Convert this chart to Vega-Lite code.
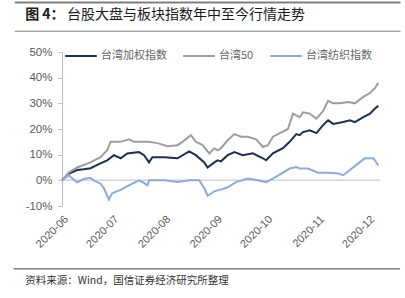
{
  "$schema": "https://vega.github.io/schema/vega-lite/v6.json",
  "width": 405,
  "height": 298,
  "autosize": "none",
  "padding": 0,
  "background": "white",
  "config": {
    "view": {"stroke": null},
    "font": "Liberation Sans",
    "axisY": {"labelOverlap": false, "labelFontSize": 11.5, "labelColor": "#595959", "labelPadding": 6, "domainColor": "#bfbfbf", "tickColor": "#bfbfbf", "tickSize": 4, "grid": false, "offset": -62},
    "axisX": {"labelOverlap": false, "labelFlush": false, "labelFontSize": 11, "labelColor": "#595959", "labelPadding": 7, "domain": false, "ticks": false, "grid": false, "offset": -92}
  },
  "datasets": {
    "s": [
      {"date":"2020-06-01","series":"台湾加权指数","value":0},
      {"date":"2020-06-05","series":"台湾加权指数","value":2.5},
      {"date":"2020-06-10","series":"台湾加权指数","value":4},
      {"date":"2020-06-14","series":"台湾加权指数","value":4.3},
      {"date":"2020-06-18","series":"台湾加权指数","value":4.7},
      {"date":"2020-06-24","series":"台湾加权指数","value":6.6},
      {"date":"2020-06-28","series":"台湾加权指数","value":7.8},
      {"date":"2020-07-02","series":"台湾加权指数","value":9.8},
      {"date":"2020-07-06","series":"台湾加权指数","value":8.6},
      {"date":"2020-07-10","series":"台湾加权指数","value":10.5},
      {"date":"2020-07-17","series":"台湾加权指数","value":11},
      {"date":"2020-07-20","series":"台湾加权指数","value":9.8},
      {"date":"2020-07-23","series":"台湾加权指数","value":7},
      {"date":"2020-07-25","series":"台湾加权指数","value":9},
      {"date":"2020-08-01","series":"台湾加权指数","value":9},
      {"date":"2020-08-09","series":"台湾加权指数","value":8.6},
      {"date":"2020-08-16","series":"台湾加权指数","value":11.3},
      {"date":"2020-08-20","series":"台湾加权指数","value":9.8},
      {"date":"2020-08-25","series":"台湾加权指数","value":7},
      {"date":"2020-08-27","series":"台湾加权指数","value":5},
      {"date":"2020-08-31","series":"台湾加权指数","value":7},
      {"date":"2020-09-02","series":"台湾加权指数","value":7.8},
      {"date":"2020-09-04","series":"台湾加权指数","value":7.4},
      {"date":"2020-09-08","series":"台湾加权指数","value":9.8},
      {"date":"2020-09-12","series":"台湾加权指数","value":11},
      {"date":"2020-09-17","series":"台湾加权指数","value":9.8},
      {"date":"2020-09-23","series":"台湾加权指数","value":10.5},
      {"date":"2020-09-29","series":"台湾加权指数","value":8.6},
      {"date":"2020-10-01","series":"台湾加权指数","value":7.8},
      {"date":"2020-10-05","series":"台湾加权指数","value":10.5},
      {"date":"2020-10-11","series":"台湾加权指数","value":12.5},
      {"date":"2020-10-15","series":"台湾加权指数","value":15},
      {"date":"2020-10-19","series":"台湾加权指数","value":18},
      {"date":"2020-10-21","series":"台湾加权指数","value":17.6},
      {"date":"2020-10-23","series":"台湾加权指数","value":18.8},
      {"date":"2020-10-27","series":"台湾加权指数","value":19.5},
      {"date":"2020-10-31","series":"台湾加权指数","value":18.4},
      {"date":"2020-11-04","series":"台湾加权指数","value":21.5},
      {"date":"2020-11-07","series":"台湾加权指数","value":23.4},
      {"date":"2020-11-10","series":"台湾加权指数","value":22},
      {"date":"2020-11-16","series":"台湾加权指数","value":22.7},
      {"date":"2020-11-20","series":"台湾加权指数","value":23.4},
      {"date":"2020-11-23","series":"台湾加权指数","value":22.7},
      {"date":"2020-11-28","series":"台湾加权指数","value":24.6},
      {"date":"2020-12-02","series":"台湾加权指数","value":26},
      {"date":"2020-12-05","series":"台湾加权指数","value":28},
      {"date":"2020-12-07","series":"台湾加权指数","value":29},

      {"date":"2020-06-01","series":"台湾50","value":0},
      {"date":"2020-06-05","series":"台湾50","value":3},
      {"date":"2020-06-10","series":"台湾50","value":5},
      {"date":"2020-06-18","series":"台湾50","value":7},
      {"date":"2020-06-24","series":"台湾50","value":9},
      {"date":"2020-06-28","series":"台湾50","value":11.7},
      {"date":"2020-06-30","series":"台湾50","value":15},
      {"date":"2020-07-06","series":"台湾50","value":15},
      {"date":"2020-07-11","series":"台湾50","value":16},
      {"date":"2020-07-14","series":"台湾50","value":15},
      {"date":"2020-07-23","series":"台湾50","value":15},
      {"date":"2020-07-28","series":"台湾50","value":14.5},
      {"date":"2020-08-03","series":"台湾50","value":13.3},
      {"date":"2020-08-09","series":"台湾50","value":13.7},
      {"date":"2020-08-12","series":"台湾50","value":15},
      {"date":"2020-08-17","series":"台湾50","value":17.6},
      {"date":"2020-08-20","series":"台湾50","value":15},
      {"date":"2020-08-24","series":"台湾50","value":13.7},
      {"date":"2020-08-28","series":"台湾50","value":10.5},
      {"date":"2020-08-31","series":"台湾50","value":12.5},
      {"date":"2020-09-02","series":"台湾50","value":11.7},
      {"date":"2020-09-04","series":"台湾50","value":12.5},
      {"date":"2020-09-08","series":"台湾50","value":15.6},
      {"date":"2020-09-12","series":"台湾50","value":18},
      {"date":"2020-09-16","series":"台湾50","value":17},
      {"date":"2020-09-20","series":"台湾50","value":17},
      {"date":"2020-09-25","series":"台湾50","value":16},
      {"date":"2020-09-29","series":"台湾50","value":13},
      {"date":"2020-10-02","series":"台湾50","value":13.7},
      {"date":"2020-10-05","series":"台湾50","value":17},
      {"date":"2020-10-11","series":"台湾50","value":19},
      {"date":"2020-10-14","series":"台湾50","value":20},
      {"date":"2020-10-17","series":"台湾50","value":26},
      {"date":"2020-10-21","series":"台湾50","value":24.6},
      {"date":"2020-10-23","series":"台湾50","value":26.5},
      {"date":"2020-10-27","series":"台湾50","value":26},
      {"date":"2020-10-31","series":"台湾50","value":24},
      {"date":"2020-11-04","series":"台湾50","value":27},
      {"date":"2020-11-07","series":"台湾50","value":31},
      {"date":"2020-11-10","series":"台湾50","value":30},
      {"date":"2020-11-14","series":"台湾50","value":30},
      {"date":"2020-11-19","series":"台湾50","value":30.5},
      {"date":"2020-11-23","series":"台湾50","value":30},
      {"date":"2020-11-28","series":"台湾50","value":32.5},
      {"date":"2020-12-02","series":"台湾50","value":34},
      {"date":"2020-12-05","series":"台湾50","value":36},
      {"date":"2020-12-07","series":"台湾50","value":38},

      {"date":"2020-06-01","series":"台湾纺织指数","value":0},
      {"date":"2020-06-05","series":"台湾纺织指数","value":2},
      {"date":"2020-06-10","series":"台湾纺织指数","value":-0.8},
      {"date":"2020-06-14","series":"台湾纺织指数","value":0.5},
      {"date":"2020-06-18","series":"台湾纺织指数","value":1},
      {"date":"2020-06-20","series":"台湾纺织指数","value":0},
      {"date":"2020-06-24","series":"台湾纺织指数","value":-1.3},
      {"date":"2020-06-26","series":"台湾纺织指数","value":-3},
      {"date":"2020-06-28","series":"台湾纺织指数","value":-6},
      {"date":"2020-06-29","series":"台湾纺织指数","value":-7.5},
      {"date":"2020-07-01","series":"台湾纺织指数","value":-5},
      {"date":"2020-07-06","series":"台湾纺织指数","value":-3.7},
      {"date":"2020-07-11","series":"台湾纺织指数","value":-2},
      {"date":"2020-07-17","series":"台湾纺织指数","value":0},
      {"date":"2020-07-20","series":"台湾纺织指数","value":-1},
      {"date":"2020-07-22","series":"台湾纺织指数","value":-2},
      {"date":"2020-07-23","series":"台湾纺织指数","value":0},
      {"date":"2020-08-01","series":"台湾纺织指数","value":0},
      {"date":"2020-08-09","series":"台湾纺织指数","value":-0.6},
      {"date":"2020-08-16","series":"台湾纺织指数","value":0},
      {"date":"2020-08-22","series":"台湾纺织指数","value":0},
      {"date":"2020-08-25","series":"台湾纺织指数","value":-3},
      {"date":"2020-08-27","series":"台湾纺织指数","value":-6},
      {"date":"2020-08-31","series":"台湾纺织指数","value":-4.3},
      {"date":"2020-09-02","series":"台湾纺织指数","value":-3.9},
      {"date":"2020-09-04","series":"台湾纺织指数","value":-3.6},
      {"date":"2020-09-08","series":"台湾纺织指数","value":-2.7},
      {"date":"2020-09-13","series":"台湾纺织指数","value":-0.7},
      {"date":"2020-09-20","series":"台湾纺织指数","value":0.7},
      {"date":"2020-09-26","series":"台湾纺织指数","value":0},
      {"date":"2020-10-01","series":"台湾纺织指数","value":-0.7},
      {"date":"2020-10-05","series":"台湾纺织指数","value":0.7},
      {"date":"2020-10-11","series":"台湾纺织指数","value":3},
      {"date":"2020-10-15","series":"台湾纺织指数","value":4.6},
      {"date":"2020-10-19","series":"台湾纺织指数","value":5.2},
      {"date":"2020-10-21","series":"台湾纺织指数","value":4.6},
      {"date":"2020-10-26","series":"台湾纺织指数","value":4.6},
      {"date":"2020-11-01","series":"台湾纺织指数","value":3},
      {"date":"2020-11-07","series":"台湾纺织指数","value":3},
      {"date":"2020-11-13","series":"台湾纺织指数","value":2.7},
      {"date":"2020-11-16","series":"台湾纺织指数","value":2},
      {"date":"2020-11-20","series":"台湾纺织指数","value":4},
      {"date":"2020-11-25","series":"台湾纺织指数","value":6.6},
      {"date":"2020-11-29","series":"台湾纺织指数","value":8.6},
      {"date":"2020-12-04","series":"台湾纺织指数","value":8.6},
      {"date":"2020-12-05","series":"台湾纺织指数","value":7.8},
      {"date":"2020-12-07","series":"台湾纺织指数","value":5.8}
    ]
  },
  "layer": [
    {
      "data": {"values": [{"k": "zero"}]},
      "mark": {"type": "rule", "color": "#d6d6d6", "strokeWidth": 1.5},
      "encoding": {
        "x": {"datum": {"year": 2020, "month": 6, "date": 1, "utc": true}, "type": "temporal"},
        "x2": {"datum": {"year": 2020, "month": 12, "date": 8, "utc": true}},
        "y": {"datum": 0, "type": "quantitative"}
      }
    },
    {
      "data": {"values": [{"k": "top-tick"}]},
      "mark": {"type": "tick", "orient": "horizontal", "color": "#7a7a7a", "size": 386, "thickness": 1.5, "opacity": 1},
      "encoding": {
        "x": {"datum": {"year": 2020, "month": 8, "date": 27, "utc": true}, "type": "temporal"},
        "y": {"datum": 69.3, "type": "quantitative"}
      }
    },
    {
      "data": {"values": [{"k": "sub-tick"}]},
      "mark": {"type": "tick", "orient": "horizontal", "color": "#a6a6a6", "size": 386, "thickness": 1.2, "opacity": 1},
      "encoding": {
        "x": {"datum": {"year": 2020, "month": 8, "date": 27, "utc": true}, "type": "temporal"},
        "y": {"datum": 58, "type": "quantitative"}
      }
    },
    {
      "data": {"values": [{"k": "top"}]},
      "mark": {"type": "rule", "color": "#7a7a7a", "strokeWidth": 1.5},
      "encoding": {
        "x": {"datum": {"year": 2020, "month": 5, "date": 4, "utc": true}, "type": "temporal"},
        "x2": {"datum": {"year": 2020, "month": 12, "date": 20, "utc": true}},
        "y": {"datum": 69.3, "type": "quantitative"}
      }
    },
    {
      "data": {"values": [{"k": "sub"}]},
      "mark": {"type": "rule", "color": "#a6a6a6", "strokeWidth": 1.2},
      "encoding": {
        "x": {"datum": {"year": 2020, "month": 5, "date": 4, "utc": true}, "type": "temporal"},
        "x2": {"datum": {"year": 2020, "month": 12, "date": 20, "utc": true}},
        "y": {"datum": 58, "type": "quantitative"}
      }
    },
    {
      "data": {"values": [{"k": "foot"}]},
      "mark": {"type": "rule", "color": "#404040", "strokeWidth": 1},
      "encoding": {
        "x": {"datum": {"year": 2020, "month": 5, "date": 3, "utc": true}, "type": "temporal"},
        "x2": {"datum": {"year": 2020, "month": 12, "date": 20, "utc": true}},
        "y": {"datum": -34.5, "type": "quantitative"}
      }
    },
    {
      "data": {"name": "s"},
      "mark": {"type": "line", "strokeWidth": 2},
      "encoding": {
        "x": {
          "field": "date", "type": "temporal", "title": null,
          "scale": {"type": "utc", "domain": [{"year": 2020, "month": 6, "date": 1, "utc": true}, {"year": 2020, "month": 12, "date": 8, "utc": true}], "range": [62, 380]},
          "axis": {"format": "%Y-%m", "tickCount": {"interval": "month", "step": 1}, "labelAngle": -45}
        },
        "y": {
          "field": "value", "type": "quantitative", "title": null,
          "scale": {"domain": [-10, 50], "nice": false, "range": [206, 52]},
          "axis": {"tickCount": 6, "labelExpr": "datum.value + '%'"}
        },
        "color": {
          "field": "series", "type": "nominal",
          "scale": {"domain": ["台湾加权指数", "台湾50", "台湾纺织指数"], "range": ["#1c2f50", "#9c9c9c", "#8eaadb"]},
          "legend": {"orient": "none", "legendX": 64, "legendY": 39, "direction": "horizontal", "title": null, "symbolType": "stroke", "symbolSize": 1000, "symbolStrokeWidth": 2, "labelFontSize": 11, "labelFont": "Noto Sans CJK SC", "labelColor": "#666666", "columnPadding": 12, "labelOffset": 3}
        }
      }
    },
    {
      "data": {"values": [{"k": "t1"}]},
      "mark": {"type": "text", "align": "left", "baseline": "middle", "fontSize": 14, "fontWeight": "bold", "font": "Noto Sans CJK SC", "color": "#1a1a1a"},
      "encoding": {
        "x": {"datum": {"year": 2020, "month": 5, "date": 10, "utc": true}, "type": "temporal"},
        "y": {"datum": 64.4, "type": "quantitative"},
        "text": {"value": "图 4："}
      }
    },
    {
      "data": {"values": [{"k": "t2"}]},
      "mark": {"type": "text", "align": "left", "baseline": "middle", "fontSize": 14, "font": "Noto Sans CJK SC", "color": "#1a1a1a"},
      "encoding": {
        "x": {"datum": {"year": 2020, "month": 6, "date": 4, "utc": true}, "type": "temporal"},
        "y": {"datum": 64.4, "type": "quantitative"},
        "text": {"value": "台股大盘与板块指数年中至今行情走势"}
      }
    },
    {
      "data": {"values": [{"k": "src"}]},
      "mark": {"type": "text", "align": "left", "baseline": "middle", "fontSize": 10.5, "font": "Noto Sans CJK SC", "color": "#333333"},
      "encoding": {
        "x": {"datum": {"year": 2020, "month": 5, "date": 10, "utc": true}, "type": "temporal"},
        "y": {"datum": -39.2, "type": "quantitative"},
        "text": {"value": "资料来源：Wind，国信证券经济研究所整理"}
      }
    }
  ]
}
